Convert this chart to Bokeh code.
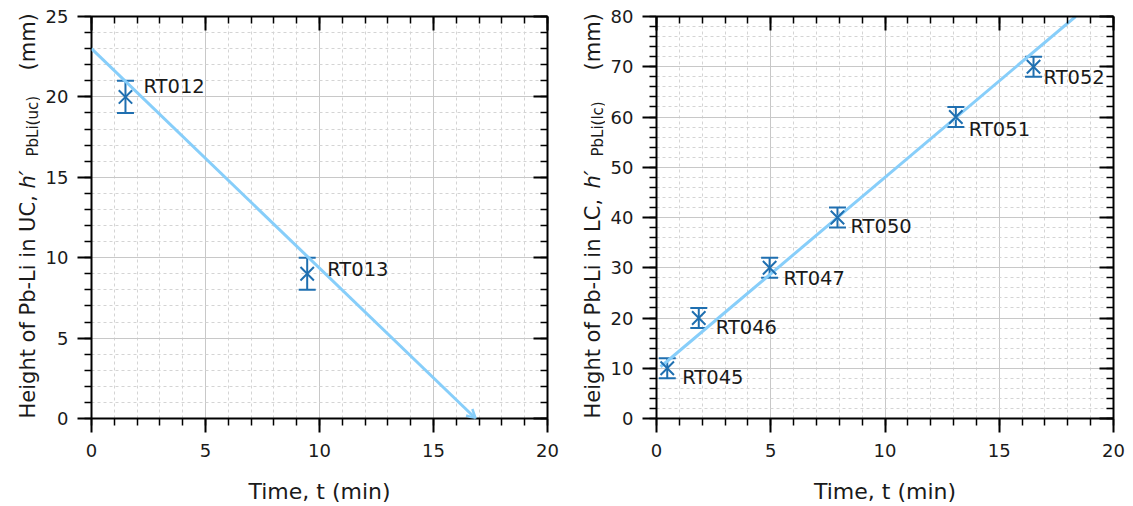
import math
from bokeh.plotting import figure
from bokeh.models import (Range1d, LinearAxis, SingleIntervalTicker, CustomJSTickFormatter,
                          Label, LabelSet, Whisker, TeeHead, Arrow, OpenHead, ColumnDataSource)
from bokeh.layouts import row, column
from bokeh.core.properties import value
from bokeh.embed import file_html
from bokeh.resources import INLINE

# ---------------- data ----------------
uc_time = [1.49, 9.46]
uc_height = [20, 9]
uc_err = [1, 1]
uc_names = ["RT012", "RT013"]
uc_fit_time = [0.0, 16.85]
uc_fit_height = [23.0, 0.0]

lc_time = [0.47, 1.85, 4.95, 7.92, 13.1, 16.5]
lc_height = [10, 20, 30, 40, 60, 70]
lc_err = [2, 2, 2, 2, 2, 2]
lc_names = ["RT045", "RT046", "RT047", "RT050", "RT051", "RT052"]
lc_fit_time = [0.18, 18.34]
lc_fit_height = [10.3, 80.0]

x_range_all = (0, 20)
uc_y_range = (0, 25)
lc_y_range = (0, 80)
x_tick_step = 5
uc_y_tick_step = 5
lc_y_tick_step = 10
x_title = "Time, t (min)"

# ---------------- layout / style ----------------
uc_label_dx = [18, 20]
uc_label_dy = [10, 4.5]
lc_label_dx = [15, 17, 14, 13, 13, 10]
lc_label_dy = [-9.5, -9.5, -11, -9, -12, -10.5]

FONT = "DejaVu Sans"
BLUE = "#1f6fb0"
FIT = "#87cefa"
TXT = "#1a1a1a"
H = 506
YLAB_W = 40


def hidden_axis():
    ax = LinearAxis(formatter=CustomJSTickFormatter(code="return ''"))
    ax.major_label_text_font_size = "1px"
    ax.major_label_standoff = 0
    ax.major_tick_in = 14
    ax.major_tick_out = 0
    ax.minor_tick_in = 7
    ax.minor_tick_out = 0
    ax.axis_line_width = 2
    ax.major_tick_line_width = 2
    ax.minor_tick_line_width = 1.5
    ax.axis_line_color = "black"
    ax.major_tick_line_color = "black"
    ax.minor_tick_line_color = "black"
    return ax


def make_ylabel(region):
    f = figure(width=YLAB_W, height=H, output_backend="svg", toolbar_location=None,
               x_range=Range1d(0, YLAB_W), y_range=Range1d(0, H),
               min_border=0, min_border_left=0, min_border_right=0,
               min_border_top=0, min_border_bottom=0)
    f.title.visible = False
    f.axis.visible = False
    f.grid.visible = False
    f.outline_line_color = None
    f.background_fill_color = "white"
    f.border_fill_color = "white"
    bx = 27
    pieces = [
        ("Height of Pb-Li in " + region + ",", 88, bx, "21px", "normal"),
        ("h\u2032", 318, bx, "21px", "italic"),
        ("PbLi(" + region.lower() + ")", 350, bx + 5, "15px", "normal"),
        ("(mm)", 436, bx, "21px", "normal"),
    ]
    for txt, yy, xx, fs, st in pieces:
        f.add_layout(Label(x=xx, y=yy, text=txt, angle=math.pi / 2,
                           text_font=FONT, text_font_size=fs, text_font_style=st,
                           text_color=TXT, text_align="left", text_baseline="alphabetic"))
    return f


def make_panel(width, border_right, y_rng, y_step, t, h, err, names, dx, dy,
               fit_t, fit_h, arrow):
    p = figure(width=width, height=H, output_backend="svg", toolbar_location=None,
               x_range=Range1d(*x_range_all), y_range=Range1d(*y_rng),
               min_border_left=51, min_border_right=border_right,
               min_border_top=16, min_border_bottom=H - 419)
    p.title.visible = False
    p.outline_line_color = None
    p.background_fill_color = "white"
    p.border_fill_color = "white"

    p.xaxis.ticker = SingleIntervalTicker(interval=x_tick_step, num_minor_ticks=5)
    p.yaxis.ticker = SingleIntervalTicker(interval=y_step, num_minor_ticks=5)

    for ax, standoff in ((p.xaxis[0], 11), (p.yaxis[0], 9)):
        ax.major_tick_in = 0
        ax.major_tick_out = 14
        ax.minor_tick_in = 0
        ax.minor_tick_out = 7
        ax.axis_line_width = 2
        ax.major_tick_line_width = 2
        ax.minor_tick_line_width = 1.5
        ax.axis_line_color = "black"
        ax.major_tick_line_color = "black"
        ax.minor_tick_line_color = "black"
        ax.major_label_standoff = standoff
        ax.major_label_text_font = FONT
        ax.major_label_text_font_size = "18px"
        ax.major_label_text_color = TXT

    xa = p.xaxis[0]
    xa.axis_label = x_title
    xa.axis_label_text_font = FONT
    xa.axis_label_text_font_size = "22px"
    xa.axis_label_text_font_style = "normal"
    xa.axis_label_text_color = TXT
    xa.axis_label_standoff = 19

    top = hidden_axis()
    top.ticker = SingleIntervalTicker(interval=x_tick_step, num_minor_ticks=5)
    p.add_layout(top, "above")
    right = hidden_axis()
    right.ticker = SingleIntervalTicker(interval=y_step, num_minor_ticks=5)
    p.add_layout(right, "right")

    for g in (p.xgrid, p.ygrid):
        g.grid_line_color = "#c8c8c8"
        g.grid_line_width = 1
        g.minor_grid_line_color = "#d4d4d4"
        g.minor_grid_line_dash = "3 3"
        g.minor_grid_line_width = 1

    if arrow:
        p.add_layout(Arrow(end=OpenHead(size=9, line_color=FIT, line_width=2.5),
                           x_start=fit_t[0], y_start=fit_h[0],
                           x_end=fit_t[1], y_end=fit_h[1],
                           line_color=FIT, line_width=3))
    else:
        p.line(fit_t, fit_h, line_color=FIT, line_width=3)

    src = ColumnDataSource(dict(t=t, h=h,
                                lo=[a - b for a, b in zip(h, err)],
                                hi=[a + b for a, b in zip(h, err)],
                                name=names, dx=dx, dy=dy))
    p.add_layout(Whisker(source=src, base="t", lower="lo", upper="hi", dimension="height",
                         line_color=BLUE, line_width=2,
                         upper_head=TeeHead(size=17, line_color=BLUE, line_width=2),
                         lower_head=TeeHead(size=17, line_color=BLUE, line_width=2)))
    p.scatter("t", "h", source=src, marker="x", size=19, line_color=BLUE, line_width=2)
    p.add_layout(LabelSet(x="t", y="h", text="name", source=src, x_offset="dx", y_offset="dy",
                          text_font=value(FONT), text_font_size="19.5px", text_color=TXT,
                          text_baseline="middle", text_align="left"))
    return p


p1 = make_panel(525, 18, uc_y_range, uc_y_tick_step, uc_time, uc_height, uc_err, uc_names,
                uc_label_dx, uc_label_dy, uc_fit_time, uc_fit_height, True)
p2 = make_panel(528, 20, lc_y_range, lc_y_tick_step, lc_time, lc_height, lc_err, lc_names,
                lc_label_dx, lc_label_dy, lc_fit_time, lc_fit_height, False)

layout = row(make_ylabel("UC"), column(p1, spacing=0), make_ylabel("LC"), column(p2, spacing=0),
             spacing=0)
open("out.html", "w").write(file_html(layout, INLINE))
